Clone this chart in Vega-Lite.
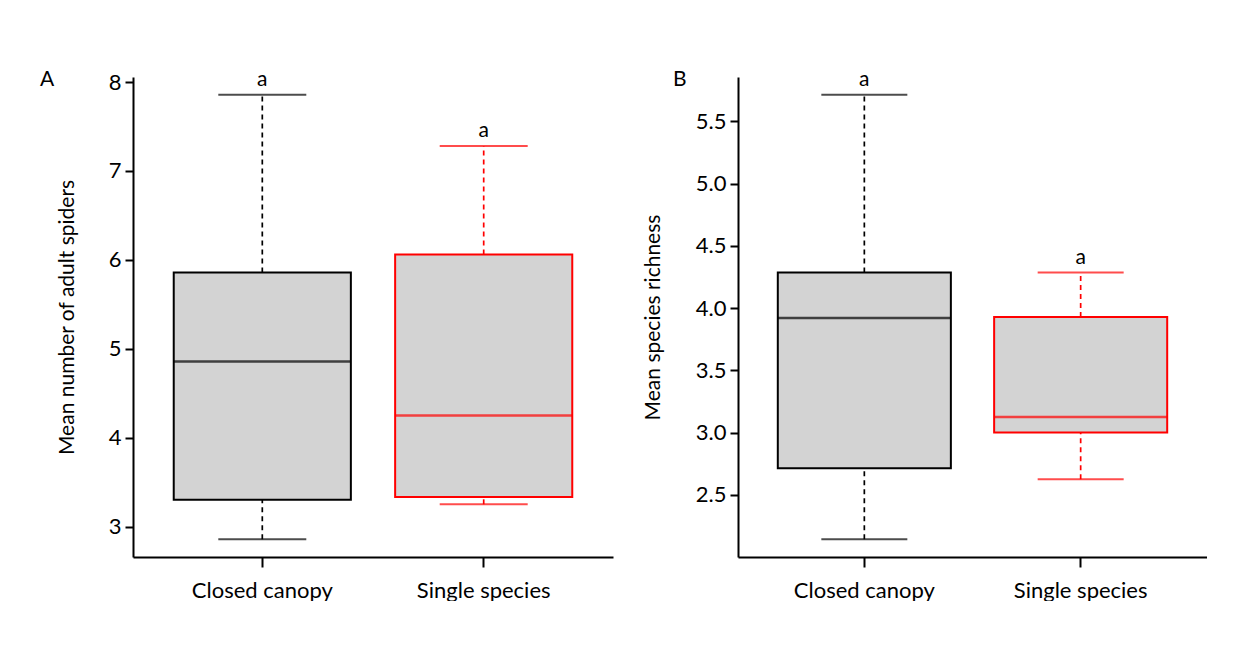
{
  "$schema": "https://vega.github.io/schema/vega-lite/v6.json",
  "padding": {"left": 40, "top": 68, "right": 0, "bottom": 0},
  "background": "white",
  "spacing": 29,
  "datasets": {
    "spiders": [
      {"treatment": "Closed canopy", "lower": 2.857, "q1": 3.3, "median": 4.857, "q3": 5.857, "upper": 7.857, "letter": "a"},
      {"treatment": "Single species", "lower": 3.25, "q1": 3.333, "median": 4.25, "q3": 6.06, "upper": 7.28, "letter": "a"}
    ],
    "richness": [
      {"treatment": "Closed canopy", "lower": 2.143, "q1": 2.714, "median": 3.92, "q3": 4.286, "upper": 5.714, "letter": "a"},
      {"treatment": "Single species", "lower": 2.625, "q1": 3.0, "median": 3.125, "q3": 3.929, "upper": 4.286, "letter": "a"}
    ]
  },
  "config": {
    "font": "Lato",
    "view": {"stroke": null},
    "axis": {"grid": false, "domainColor": "black", "domainWidth": 2, "tickColor": "black", "tickWidth": 2, "labelColor": "black", "titleColor": "black", "labelFont": "Lato", "titleFont": "Lato", "titleFontWeight": "normal", "labelFontSize": 22, "titleFontSize": 21},
    "axisX": {"tickSize": 10, "labelPadding": 13, "labelAngle": 0, "title": null},
    "axisY": {"tickSize": 8, "labelPadding": 4},
    "title": {"font": "Lato", "fontSize": 21, "fontWeight": "normal", "color": "black"}
  },
  "hconcat": [
    {
      "width": 480,
      "height": 480,
      "data": {"name": "spiders"},
      "title": {"text": "A", "anchor": "start", "frame": "group", "orient": "top", "offset": -9, "baseline": "alphabetic", "dx": -93, "dy": 29},
      "encoding": {
        "x": {"field": "treatment", "type": "nominal", "sort": ["Closed canopy", "Single species"], "scale": {"paddingInner": 0.2, "paddingOuter": 0.184}, "axis": {"title": null}}
      },
      "layer": [
        {
          "mark": {"type": "rule", "strokeDash": [5, 4], "strokeWidth": 1.7},
          "encoding": {
            "y": {"field": "q3", "type": "quantitative", "title": "Mean number of adult spiders", "scale": {"domain": [2.657, 8.057], "nice": false, "zero": false}, "axis": {"values": [3, 4, 5, 6, 7, 8], "format": "d", "titlePadding": 31}},
            "y2": {"field": "upper"},
            "color": {"field": "treatment", "type": "nominal", "scale": {"domain": ["Closed canopy", "Single species"], "range": ["black", "#ff0000"]}, "legend": null}
          }
        },
        {
          "mark": {"type": "rule", "strokeDash": [5, 4], "strokeWidth": 1.7},
          "encoding": {
            "y": {"field": "lower", "type": "quantitative", "title": "Mean number of adult spiders"},
            "y2": {"field": "q1"},
            "color": {"field": "treatment", "type": "nominal", "legend": null}
          }
        },
        {
          "mark": {"type": "tick", "size": 88, "thickness": 2},
          "encoding": {
            "y": {"field": "upper", "type": "quantitative", "title": "Mean number of adult spiders"},
            "color": {"field": "treatment", "type": "nominal", "legend": null}
          }
        },
        {
          "mark": {"type": "tick", "size": 88, "thickness": 2},
          "encoding": {
            "y": {"field": "lower", "type": "quantitative", "title": "Mean number of adult spiders"},
            "color": {"field": "treatment", "type": "nominal", "legend": null}
          }
        },
        {
          "mark": {"type": "bar", "fill": "#d3d3d3", "strokeWidth": 2},
          "encoding": {
            "y": {"field": "q1", "type": "quantitative", "title": "Mean number of adult spiders"},
            "y2": {"field": "q3"},
            "stroke": {"field": "treatment", "type": "nominal", "scale": {"domain": ["Closed canopy", "Single species"], "range": ["black", "#ff0000"]}, "legend": null}
          }
        },
        {
          "mark": {"type": "tick", "size": 177, "thickness": 2.5},
          "encoding": {
            "y": {"field": "median", "type": "quantitative", "title": "Mean number of adult spiders"},
            "color": {"field": "treatment", "type": "nominal", "legend": null}
          }
        },
        {
          "mark": {"type": "text", "baseline": "alphabetic", "dy": -9, "fontSize": 21, "color": "black", "font": "Lato"},
          "encoding": {
            "y": {"field": "upper", "type": "quantitative", "title": "Mean number of adult spiders"},
            "text": {"field": "letter"}
          }
        }
      ]
    },
    {
      "width": 469,
      "height": 480,
      "data": {"name": "richness"},
      "title": {"text": "B", "anchor": "start", "frame": "group", "orient": "top", "offset": -9, "baseline": "alphabetic", "dx": -65, "dy": 29},
      "encoding": {
        "x": {"field": "treatment", "type": "nominal", "sort": ["Closed canopy", "Single species"], "scale": {"paddingInner": 0.2, "paddingOuter": 0.184}, "axis": {"title": null}}
      },
      "layer": [
        {
          "mark": {"type": "rule", "strokeDash": [5, 4], "strokeWidth": 1.7},
          "encoding": {
            "y": {"field": "q3", "type": "quantitative", "title": "Mean species richness", "scale": {"domain": [2.0, 5.857], "nice": false, "zero": false}, "axis": {"values": [2.5, 3, 3.5, 4, 4.5, 5, 5.5], "format": ".1f", "titlePadding": 32}},
            "y2": {"field": "upper"},
            "color": {"field": "treatment", "type": "nominal", "scale": {"domain": ["Closed canopy", "Single species"], "range": ["black", "#ff0000"]}, "legend": null}
          }
        },
        {
          "mark": {"type": "rule", "strokeDash": [5, 4], "strokeWidth": 1.7},
          "encoding": {
            "y": {"field": "lower", "type": "quantitative", "title": "Mean species richness"},
            "y2": {"field": "q1"},
            "color": {"field": "treatment", "type": "nominal", "legend": null}
          }
        },
        {
          "mark": {"type": "tick", "size": 86, "thickness": 2},
          "encoding": {
            "y": {"field": "upper", "type": "quantitative", "title": "Mean species richness"},
            "color": {"field": "treatment", "type": "nominal", "legend": null}
          }
        },
        {
          "mark": {"type": "tick", "size": 86, "thickness": 2},
          "encoding": {
            "y": {"field": "lower", "type": "quantitative", "title": "Mean species richness"},
            "color": {"field": "treatment", "type": "nominal", "legend": null}
          }
        },
        {
          "mark": {"type": "bar", "fill": "#d3d3d3", "strokeWidth": 2},
          "encoding": {
            "y": {"field": "q1", "type": "quantitative", "title": "Mean species richness"},
            "y2": {"field": "q3"},
            "stroke": {"field": "treatment", "type": "nominal", "scale": {"domain": ["Closed canopy", "Single species"], "range": ["black", "#ff0000"]}, "legend": null}
          }
        },
        {
          "mark": {"type": "tick", "size": 173, "thickness": 2.5},
          "encoding": {
            "y": {"field": "median", "type": "quantitative", "title": "Mean species richness"},
            "color": {"field": "treatment", "type": "nominal", "legend": null}
          }
        },
        {
          "mark": {"type": "text", "baseline": "alphabetic", "dy": -9, "fontSize": 21, "color": "black", "font": "Lato"},
          "encoding": {
            "y": {"field": "upper", "type": "quantitative", "title": "Mean species richness"},
            "text": {"field": "letter"}
          }
        }
      ]
    }
  ]
}
